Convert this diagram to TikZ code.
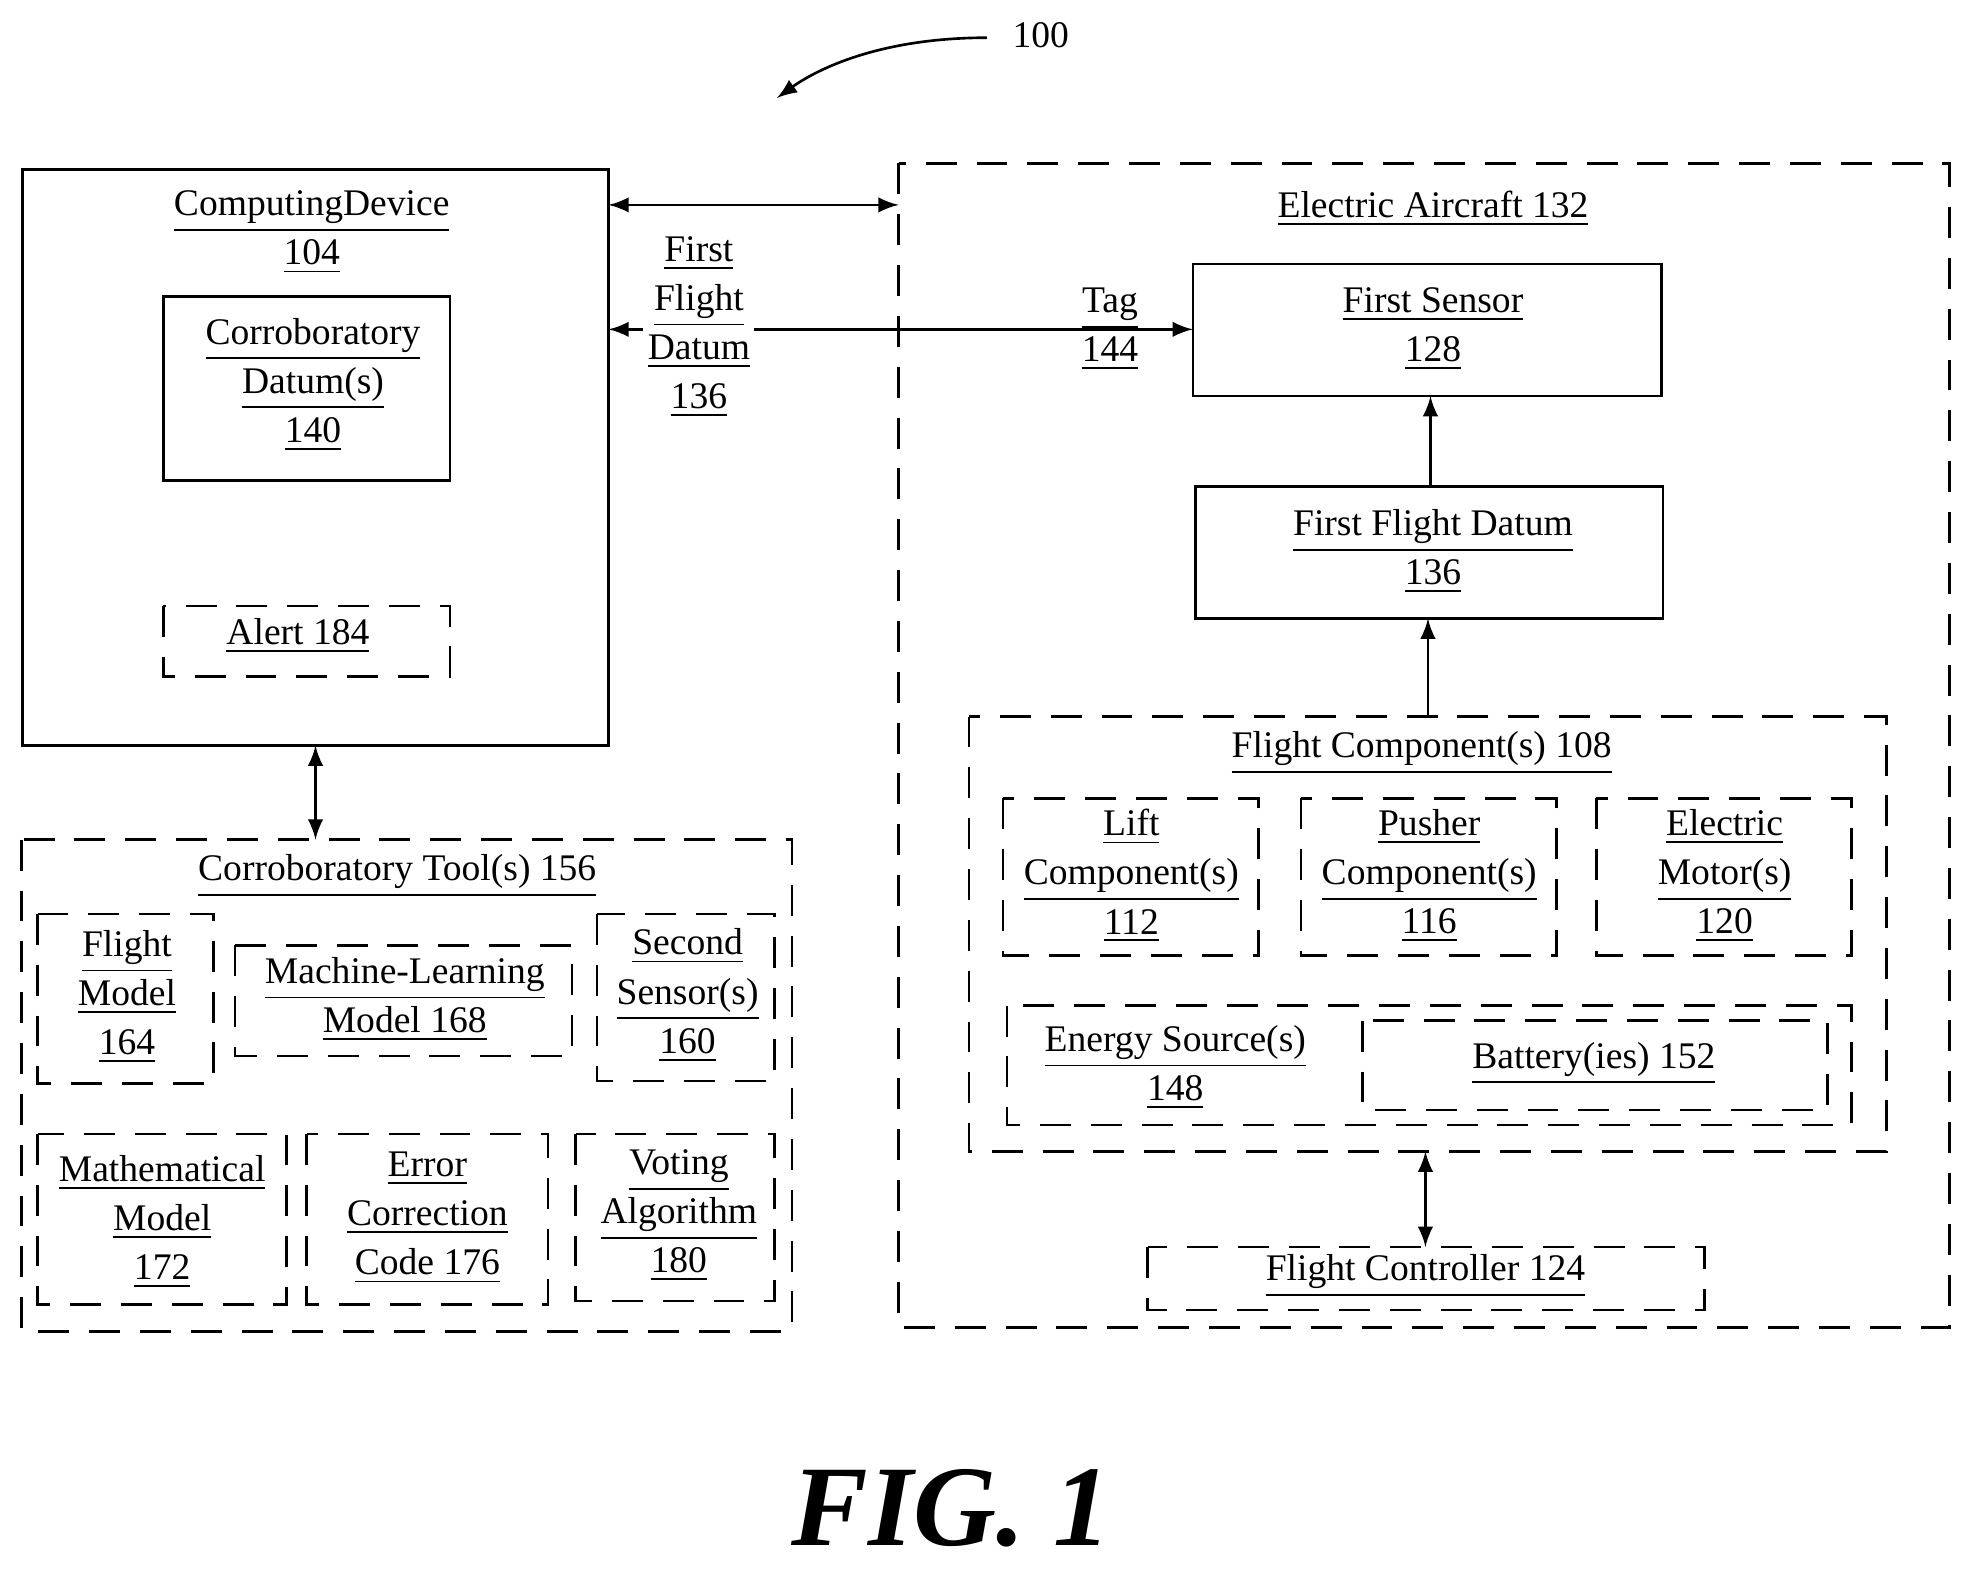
\documentclass[tikz,border=0pt]{standalone}
\usepackage{fontspec}
\setmainfont{Liberation Serif}
\newcommand{\ul}[1]{\underline{#1}}
\tikzset{%
  every box/.style={
    draw,
    line width=0.6pt
  },
  box dashed/.style={
    dash pattern=on 7pt off 4.5pt
  },
  label text/.style={
    align=center,
    font=\fontsize{8.5}{11.1}\selectfont
  },
}
\begin{document}
\begin{tikzpicture}[x=0.01cm, y=-0.01cm, >=latex, line width=0.6pt]
\useasboundingbox (0,0) rectangle (1568,1250);

% frames
\draw [every box] (18,135) rectangle (484,593);
\node [label text] (computing) at (248,185) {\ul{ComputingDevice}\\\ul{104}};
\draw [every box] (130,236) rectangle (358,382);
\node [label text] (datum) at (249,306) {\ul{Corroboratory}\\\ul{Datum(s)}\\\ul{140}};
\draw [every box, box dashed] (130,482) rectangle (358,538);
\node [label text] (alert) at (237,506) {\ul{Alert 184}};

\draw [every box, box dashed] (715,130) rectangle (1551,1056);
\node [label text] (aircraft) at (1140,166) {\ul{Electric Aircraft 132}};
\draw [every box] (949,210) rectangle (1322,315);
\node [label text] (sensor) at (1140,262) {\ul{First Sensor}\\\ul{128}};
\draw [every box] (951,387) rectangle (1323,492);
\node [label text] (flight-datum) at (1140,439) {\ul{First Flight Datum}\\\ul{136}};

\draw [every box, box dashed] (771,570) rectangle (1501,916);
\node [label text] (components) at (1131,599) {\ul{Flight Component(s) 108}};
\foreach \x/\t in {798/{\ul{Lift}\\\ul{Component(s)}\\\ul{112}},
                   1035/{\ul{Pusher}\\\ul{Component(s)}\\\ul{116}},
                   1270/{\ul{Electric}\\\ul{Motor(s)}\\\ul{120}}}
{
  \draw [every box, box dashed] (\x,635) rectangle ++(203,125);
  \node [label text] at (\x+102,697) {\t};
}
\draw [every box, box dashed] (801,800) rectangle (1473,895);
\node [label text] (energy) at (935,849) {\ul{Energy Source(s)}\\\ul{148}};
\draw [every box, box dashed] (1084,812) rectangle (1454,883);
\node [label text] (battery) at (1268,846) {\ul{Battery(ies) 152}};
\draw [every box, box dashed] (913,992) rectangle (1356,1042);
\node [label text] (controller) at (1134,1015) {\ul{Flight Controller 124}};

\draw [every box, box dashed] (17,668) rectangle (630,1059);
\node [label text] (tools) at (316,697) {\ul{Corroboratory Tool(s) 156}};
\draw [every box, box dashed] (30,727) rectangle (170,862);
\node [label text] at (101,793) {\ul{Flight}\\\ul{Model}\\\ul{164}};
\draw [every box, box dashed] (187,752) rectangle (455,840);
\node [label text] at (322,795) {\ul{Machine-Learning}\\\ul{Model 168}};
\draw [every box, box dashed] (475,727) rectangle (616,860);
\node [label text] at (547,792) {\ul{Second}\\\ul{Sensor(s)}\\\ul{160}};
\draw [every box, box dashed] (30,902) rectangle (228,1038);
\node [label text] at (129,972) {\ul{Mathematical}\\\ul{Model}\\\ul{172}};
\draw [every box, box dashed] (244,902) rectangle (436,1038);
\node [label text] at (340,969) {\ul{Error}\\\ul{Correction}\\\ul{Code 176}};
\draw [every box, box dashed] (458,902) rectangle (616,1035);
\node [label text] at (540,967) {\ul{Voting}\\\ul{Algorithm}\\\ul{180}};

% connectors
\coordinate (cd-top) at (484,163);
\coordinate (ea-top) at (715,163);
\draw [<->] (cd-top) -- (ea-top);
\coordinate (cd-mid) at (484,262);
\coordinate (fs-left) at (949,262);
\draw [<->] (cd-mid) -- (fs-left);
\node [label text, fill=white, inner sep=1pt] (datum-label) at (556,260) {\ul{First}\\\ul{Flight}\\\ul{Datum}\\\ul{136}};
\node [label text] (tag) at (883,262) {\ul{Tag}\\\ul{144}};
\draw [->] (1138,387) -- (1138,315);
\draw [->] (1136,570) -- (1136,492);
\draw [<->] (1134,916) -- (1134,992);
\draw [<->] (251,593) -- (251,668);

\node [label text] (ref) at (828,28) {100};
\draw [->] (785,30) .. controls (700,30) and (650,55) .. (618,78);
\node [font=\fontsize{26}{30}\selectfont\bfseries\itshape] (fig) at (757,1200) {FIG. 1};
\end{tikzpicture}
\end{document}
